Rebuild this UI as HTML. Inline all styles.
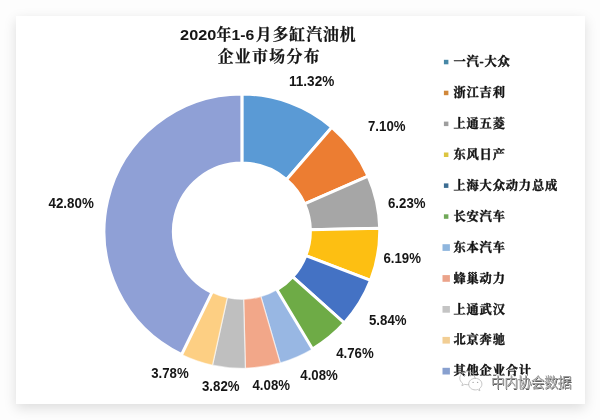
<!DOCTYPE html>
<html lang="zh"><head><meta charset="utf-8"><title>2020年1-6月多缸汽油机企业市场分布</title>
<style>
html,body{margin:0;padding:0}
body{width:600px;height:420px;overflow:hidden;position:relative;background:#fdfdfd;font-family:"Liberation Sans",sans-serif}
.card{position:absolute;left:16px;top:16.2px;width:568.6px;height:388px;background:#fff;box-shadow:0 4px 12px rgba(0,0,0,.135)}
svg{position:absolute;left:0;top:0;filter:blur(.45px)}
.sr{fill:#000;fill-opacity:0;font-size:12px}
</style></head><body>
<div class="card"></div>
<svg width="600" height="420" viewBox="0 0 600 420">
<g transform="translate(241.9 231.15) scale(1.0025 0.9975) translate(-241.9 -231.15)"><g stroke="#fff" stroke-opacity="0.55" stroke-width="1.3" stroke-linejoin="round"><path d="M312.34 349.24A137.5 137.5 0 0 1 280.10 363.24L260.87 296.76A68.3 68.3 0 0 0 276.89 289.81Z" fill="#98B7E3"/><path d="M280.10 363.24A137.5 137.5 0 0 1 245.36 368.61L243.62 299.43A68.3 68.3 0 0 0 260.87 296.76Z" fill="#F2A789"/><path d="M245.36 368.61A137.5 137.5 0 0 1 212.58 365.49L227.34 297.88A68.3 68.3 0 0 0 243.62 299.43Z" fill="#BFBFBF"/><path d="M212.58 365.49A137.5 137.5 0 0 1 181.80 354.82L212.04 292.58A68.3 68.3 0 0 0 227.34 297.88Z" fill="#FDCF83"/></g><g stroke="#fff" stroke-width="3.0" stroke-linejoin="round"><path d="M241.90 93.65A137.5 137.5 0 0 1 331.66 126.99L286.49 179.41A68.3 68.3 0 0 0 241.90 162.85Z" fill="#5A9AD5"/><path d="M331.66 126.99A137.5 137.5 0 0 1 367.82 175.91L304.45 203.71A68.3 68.3 0 0 0 286.49 179.41Z" fill="#EC7D32"/><path d="M367.82 175.91A137.5 137.5 0 0 1 379.37 228.13L310.18 229.65A68.3 68.3 0 0 0 304.45 203.71Z" fill="#A6A6A6"/><path d="M379.37 228.13A137.5 137.5 0 0 1 370.25 280.48L305.65 255.65A68.3 68.3 0 0 0 310.18 229.65Z" fill="#FDBF12"/><path d="M370.25 280.48A137.5 137.5 0 0 1 344.01 323.24L292.62 276.89A68.3 68.3 0 0 0 305.65 255.65Z" fill="#4472C4"/><path d="M344.01 323.24A137.5 137.5 0 0 1 312.34 349.24L276.89 289.81A68.3 68.3 0 0 0 292.62 276.89Z" fill="#6EAB46"/><path d="M181.80 354.82A137.5 137.5 0 0 1 241.90 93.65L241.90 162.85A68.3 68.3 0 0 0 212.04 292.58Z" fill="#8FA0D6"/></g></g>
<g font-family="Liberation Sans, sans-serif" font-weight="700" font-size="14.2" fill="#161616"><text x="289.0" y="85.8" textLength="45.3" lengthAdjust="spacingAndGlyphs">11.32%</text><text x="368.0" y="130.8" textLength="37.5" lengthAdjust="spacingAndGlyphs">7.10%</text><text x="388.0" y="207.8" textLength="37.5" lengthAdjust="spacingAndGlyphs">6.23%</text><text x="383.4" y="262.6" textLength="37.5" lengthAdjust="spacingAndGlyphs">6.19%</text><text x="369.0" y="324.6" textLength="37.5" lengthAdjust="spacingAndGlyphs">5.84%</text><text x="336.2" y="357.8" textLength="37.5" lengthAdjust="spacingAndGlyphs">4.76%</text><text x="300.3" y="379.6" textLength="37.5" lengthAdjust="spacingAndGlyphs">4.08%</text><text x="252.5" y="390.3" textLength="37.5" lengthAdjust="spacingAndGlyphs">4.08%</text><text x="202.0" y="390.7" textLength="37.5" lengthAdjust="spacingAndGlyphs">3.82%</text><text x="151.2" y="378.3" textLength="37.5" lengthAdjust="spacingAndGlyphs">3.78%</text><text x="48.5" y="207.7" textLength="45.3" lengthAdjust="spacingAndGlyphs">42.80%</text></g>
<g font-family="Liberation Sans, sans-serif" font-weight="700" fill="#161616"><text x="180.1" y="40.1" font-size="15.0" textLength="36.2" lengthAdjust="spacingAndGlyphs">2020</text><text x="231.5" y="40.1" font-size="15.0" textLength="22.8" lengthAdjust="spacingAndGlyphs">1-6</text></g>
<g font-family="'Liberation Serif','Noto Serif CJK SC',serif" font-weight="700" font-size="15.86" fill="#141414" stroke="#141414" stroke-width="0.25" stroke-linejoin="round"><text x="216.42" y="40.38" textLength="14.75" lengthAdjust="spacingAndGlyphs">年</text><text x="255.77" y="40.38" textLength="99.86" lengthAdjust="spacing">月多缸汽油机</text><text x="217.67" y="62.28" textLength="101.86" lengthAdjust="spacing">企业市场分布</text></g>
<g font-family="'Liberation Serif','Noto Serif CJK SC',serif" font-weight="700" font-size="12.23" fill="#141414" stroke="#141414" stroke-width="0.42" stroke-linejoin="round">
<rect x="443.9" y="59.80" width="4.5" height="4.5" fill="#4787A6" stroke="none"/><text y="66.38"><tspan x="453.43 466.51">一汽</tspan><tspan x="479.5">-</tspan><tspan x="484.39 497.47">大众</tspan></text>
<rect x="443.9" y="90.70" width="4.5" height="4.5" fill="#D0873A" stroke="none"/><text x="453.43" y="97.28" textLength="51.47" lengthAdjust="spacing">浙江吉利</text>
<rect x="443.9" y="121.60" width="4.5" height="4.5" fill="#9E9E9E" stroke="none"/><text x="453.43" y="128.18" textLength="51.47" lengthAdjust="spacing">上通五菱</text>
<rect x="443.9" y="152.50" width="4.5" height="4.5" fill="#DCC540" stroke="none"/><text x="453.43" y="159.08" textLength="51.47" lengthAdjust="spacing">东风日产</text>
<rect x="443.9" y="183.40" width="4.5" height="4.5" fill="#3C6D92" stroke="none"/><text x="453.43" y="189.98" textLength="103.79" lengthAdjust="spacing">上海大众动力总成</text>
<rect x="443.9" y="214.30" width="4.5" height="4.5" fill="#70A858" stroke="none"/><text x="453.43" y="220.88" textLength="51.47" lengthAdjust="spacing">长安汽车</text>
<rect x="442.5" y="244.20" width="7.4" height="6.7" fill="#8FB6DE" stroke="none"/><text x="453.43" y="251.78" textLength="51.47" lengthAdjust="spacing">东本汽车</text>
<rect x="442.5" y="275.10" width="7.4" height="6.7" fill="#EBA38A" stroke="none"/><text x="453.43" y="282.68" textLength="51.47" lengthAdjust="spacing">蜂巢动力</text>
<rect x="442.5" y="306.00" width="7.4" height="6.7" fill="#C4C4C4" stroke="none"/><text x="453.43" y="313.58" textLength="51.47" lengthAdjust="spacing">上通武汉</text>
<rect x="442.5" y="336.90" width="7.4" height="6.7" fill="#F2CE94" stroke="none"/><text x="453.43" y="344.48" textLength="51.47" lengthAdjust="spacing">北京奔驰</text>
<rect x="442.5" y="367.80" width="7.4" height="6.7" fill="#88A0CF" stroke="none"/><text x="453.43" y="375.38" textLength="77.63" lengthAdjust="spacing">其他企业合计</text>
</g>
<g fill="none" stroke="#b8b8b8" stroke-width="0.8" stroke-linecap="round" stroke-linejoin="round"><path d="M474.9 378.2C474.6 374.6 471.4 371.6 467.4 371.6C463.2 371.6 459.8 374.6 459.8 378.2C459.8 380.3 460.9 382.1 462.6 383.3L461.9 385.7L464.7 384.3C465.5 384.6 466.4 384.7 467.4 384.7C467.8 384.7 468.2 384.7 468.6 384.6"/><path d="M475.3 378.3C471.6 378.3 468.7 380.9 468.7 384.1C468.7 387.3 471.6 389.9 475.3 389.9C476.1 389.9 476.9 389.8 477.6 389.5L479.9 390.8L479.3 388.7C480.9 387.6 481.9 386 481.9 384.1C481.9 380.9 479 378.3 475.3 378.3Z"/></g><g fill="#a8a8a8"><circle cx="464.6" cy="375.6" r="0.8"/><circle cx="470.2" cy="375.6" r="0.8"/><circle cx="473.1" cy="382.4" r="0.7"/><circle cx="477.6" cy="382.4" r="0.7"/></g>
<g font-family="'Liberation Sans','Noto Sans CJK SC',sans-serif" font-size="14"><text x="490.88" y="387.00" textLength="80.75" lengthAdjust="spacing" fill="#fff" stroke="#fff" stroke-width="2.38" stroke-linejoin="round" opacity="0.9">中内协会数据</text><text x="491.48" y="387.50" textLength="80.75" lengthAdjust="spacing" fill="#383838" opacity="0.8">中内协会数据</text><text x="490.38" y="386.50" textLength="80.75" lengthAdjust="spacing" fill="#fff">中内协会数据</text><text x="490.88" y="387.00" textLength="80.75" lengthAdjust="spacing" fill="#9e9e9e">中内协会数据</text></g>
<g class="sr"><text x="180" y="40">2020年1-6月多缸汽油机</text><text x="217" y="62">企业市场分布</text><text x="453" y="66.7">一汽-大众</text><text x="453" y="97.6">浙江吉利</text><text x="453" y="128.5">上通五菱</text><text x="453" y="159.4">东风日产</text><text x="453" y="190.3">上海大众动力总成</text><text x="453" y="221.2">长安汽车</text><text x="453" y="252.1">东本汽车</text><text x="453" y="283.0">蜂巢动力</text><text x="453" y="313.9">上通武汉</text><text x="453" y="344.8">北京奔驰</text><text x="453" y="375.7">其他企业合计</text><text x="492" y="386">中内协会数据</text></g>
</svg>
</body></html>
